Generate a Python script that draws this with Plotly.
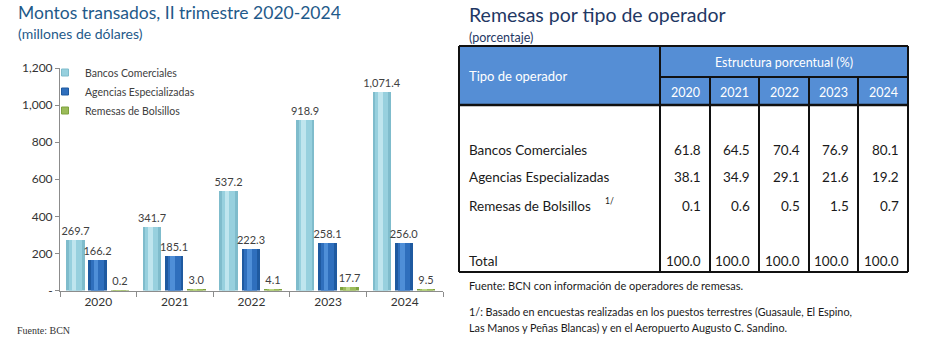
import plotly.graph_objects as go

# ---------------- data ----------------
years = ["2020", "2021", "2022", "2023", "2024"]
bancos = [269.7, 341.7, 537.2, 918.9, 1071.4]
agencias = [166.2, 185.1, 222.3, 258.1, 256.0]
bolsillos = [0.2, 3.0, 4.1, 17.7, 9.5]
series_names = ["Bancos Comerciales", "Agencias Especializadas", "Remesas de Bolsillos"]

y_tickvals = [0, 200, 400, 600, 800, 1000, 1200]
y_ticktext = ["-", "200", "400", "600", "800", "1,000", "1,200"]

table_rows = ["Bancos Comerciales", "Agencias Especializadas", "Remesas de Bolsillos", "Total"]
pct_bancos = [61.8, 64.5, 70.4, 76.9, 80.1]
pct_agencias = [38.1, 34.9, 29.1, 21.6, 19.2]
pct_bolsillos = [0.1, 0.6, 0.5, 1.5, 0.7]
pct_total = [100.0, 100.0, 100.0, 100.0, 100.0]

# ---------------- helpers ----------------
W, H = 925, 362
def PX(x):
    return x / W
def PY(y):
    return 1 - y / H

FONT = "Lato"
fig = go.Figure()

# ---------------- bars (cylinder look) ----------------
bar_w = 0.24
offsets = [-0.42, -0.13, 0.16]
palettes = [
    ("#7fbccc", "#97d0de", "#bfe5ee"),
    ("#1f5aa0", "#2f6fbd", "#4f8fd8"),
    ("#7ea23e", "#9bbb59", "#bcd884"),
]
values = [bancos, agencias, bolsillos]

for i, vals in enumerate(values):
    fig.add_trace(go.Bar(
        x=years, y=vals, width=bar_w, offset=offsets[i],
        marker=dict(color=palettes[i][0], line=dict(width=0)),
        texttemplate="%{y:,.1f}", textposition="outside", constraintext="none",
        textfont=dict(family=FONT, size=11, color="#404040"),
        cliponaxis=False, showlegend=False, hoverinfo="skip",
    ))
for i, vals in enumerate(values):
    fig.add_trace(go.Bar(
        x=years, y=vals, width=bar_w * 0.7, offset=offsets[i] + bar_w * 0.15,
        marker=dict(color=palettes[i][1], line=dict(width=0)),
        name=series_names[i], showlegend=False, textposition="none",
    ))
for i, vals in enumerate(values):
    fig.add_trace(go.Bar(
        x=years, y=vals, width=bar_w * 0.25, offset=offsets[i] + bar_w * 0.3,
        marker=dict(color=palettes[i][2], line=dict(width=0)),
        showlegend=False, hoverinfo="skip", textposition="none",
    ))
# legend entries (small square keys)
for i, name in enumerate(series_names):
    fig.add_trace(go.Scatter(
        x=[None], y=[None], mode="markers", name=name,
        marker=dict(symbol="square", size=7, color=palettes[i][1],
                    line=dict(color=palettes[i][0], width=1)),
        showlegend=True,
    ))

fig.update_layout(
    width=W, height=H,
    margin=dict(l=0, r=0, t=0, b=0, autoexpand=False),
    paper_bgcolor="white", plot_bgcolor="white",
    barmode="overlay",
    font=dict(family=FONT, color="#404040"),
    xaxis=dict(
        domain=[PX(60), PX(443)], type="category", range=[-0.5, 4.5],
        showline=True, linecolor="#8c8c8c", linewidth=1,
        ticks="outside", tickson="boundaries", ticklen=5, tickcolor="#8c8c8c",
        tickfont=dict(family=FONT, size=12, color="#333333"),
        showgrid=False, zeroline=False, anchor="y",
    ),
    yaxis=dict(
        domain=[PY(290.5), PY(68)], range=[0, 1200],
        tickvals=y_tickvals, ticktext=y_ticktext,
        showline=True, linecolor="#8c8c8c", linewidth=1,
        ticks="outside", ticklen=4, tickcolor="#8c8c8c",
        tickfont=dict(family=FONT, size=12, color="#333333"),
        showgrid=False, zeroline=False, anchor="x",
    ),
    legend=dict(
        x=PX(45), y=PY(58), xanchor="left", yanchor="top",
        font=dict(family=FONT, size=10.5, color="#404040"),
        bgcolor="rgba(0,0,0,0)", itemwidth=30, tracegroupgap=0,
    ),
    bargap=0,
)

ann = []
# left titles
ann.append(dict(text="Montos transados, II trimestre 2020-2024", x=PX(16), y=PY(13),
                xanchor="left", yanchor="middle", font=dict(family=FONT, size=17.5, color="#1f5a8a")))
ann.append(dict(text="(millones de dólares)", x=PX(16), y=PY(34),
                xanchor="left", yanchor="middle", font=dict(family=FONT, size=14, color="#1f5a8a")))
ann.append(dict(text="Fuente: BCN", x=PX(15), y=PY(330),
                xanchor="left", yanchor="middle", font=dict(family="Liberation Serif", size=10, color="#333333")))

# right titles
ann.append(dict(text="Remesas por tipo de operador", x=PX(467), y=PY(15),
                xanchor="left", yanchor="middle", font=dict(family=FONT, size=19.5, color="#1f3864")))
ann.append(dict(text="(porcentaje)", x=PX(467), y=PY(37),
                xanchor="left", yanchor="middle", font=dict(family=FONT, size=12.5, color="#1f3864")))

# ---------------- table ----------------
L, C0, R = 459, 660, 908
col_edges = [660, 710, 759, 809, 858, 908]
T, H1, H2, B = 46, 77, 105, 272
HEAD = "#558ED5"
shapes = []
shapes.append(dict(type="rect", xref="paper", yref="paper", x0=PX(L), x1=PX(R), y0=PY(H2), y1=PY(T),
                   fillcolor=HEAD, line=dict(width=0), layer="below"))
def line(x0, y0, x1, y1, w=2):
    shapes.append(dict(type="line", xref="paper", yref="paper", x0=PX(x0), x1=PX(x1),
                       y0=PY(y0), y1=PY(y1), line=dict(color="#111111", width=w)))
line(L, T, R, T)
line(L, B, R, B)
line(L, T, L, B)
line(R, T, R, B)
line(C0, T, C0, B)
line(C0, H1, R, H1)
line(L, H2, R, H2, 2.5)
for xe in col_edges[1:-1]:
    line(xe, H1, xe, B)

ann.append(dict(text="Tipo de operador", x=PX(467), y=PY(76), xanchor="left", yanchor="middle",
                font=dict(family=FONT, size=13, color="white")))
ann.append(dict(text="Estructura porcentual (%)", x=PX((C0 + R) / 2), y=PY(62), xanchor="center",
                yanchor="middle", font=dict(family=FONT, size=12.5, color="white")))
for j, yr in enumerate(years):
    ann.append(dict(text=yr, x=PX((col_edges[j] + col_edges[j + 1]) / 2), y=PY(92), xanchor="center",
                    yanchor="middle", font=dict(family=FONT, size=12.5, color="white")))

row_y = [150, 177, 206, 261]
row_vals = [pct_bancos, pct_agencias, pct_bolsillos, pct_total]
for r, name in enumerate(table_rows):
    ann.append(dict(text=name, x=PX(467), y=PY(row_y[r]), xanchor="left", yanchor="middle",
                    font=dict(family=FONT, size=13.5, color="#1a1a1a")))
    for j, v in enumerate(row_vals[r]):
        ann.append(dict(text=f"{v:.1f}", x=PX(col_edges[j + 1] - 7), y=PY(row_y[r]), xanchor="right",
                        yanchor="middle", font=dict(family=FONT, size=13.5, color="#1a1a1a")))
ann.append(dict(text="1/", x=PX(603), y=PY(201), xanchor="left", yanchor="middle",
                font=dict(family=FONT, size=8.5, color="#1a1a1a")))

ann.append(dict(text="Fuente: BCN con información de operadores de remesas.", x=PX(467), y=PY(285),
                xanchor="left", yanchor="middle", font=dict(family=FONT, size=11, color="#1a1a1a")))
ann.append(dict(text="1/: Basado en encuestas realizadas en los puestos terrestres (Guasaule, El Espino,",
                x=PX(467), y=PY(311), xanchor="left", yanchor="middle",
                font=dict(family=FONT, size=10.8, color="#1a1a1a")))
ann.append(dict(text="Las Manos y Peñas Blancas) y en el Aeropuerto Augusto C. Sandino.",
                x=PX(467), y=PY(327), xanchor="left", yanchor="middle",
                font=dict(family=FONT, size=10.8, color="#1a1a1a")))

for a in ann:
    a.update(xref="paper", yref="paper", showarrow=False)
fig.update_layout(annotations=ann, shapes=shapes)

fig.write_html(
    "out.html",
    config={"displayModeBar": False},
    post_script="document.body.style.margin='0';document.body.style.overflow='hidden';",
)
